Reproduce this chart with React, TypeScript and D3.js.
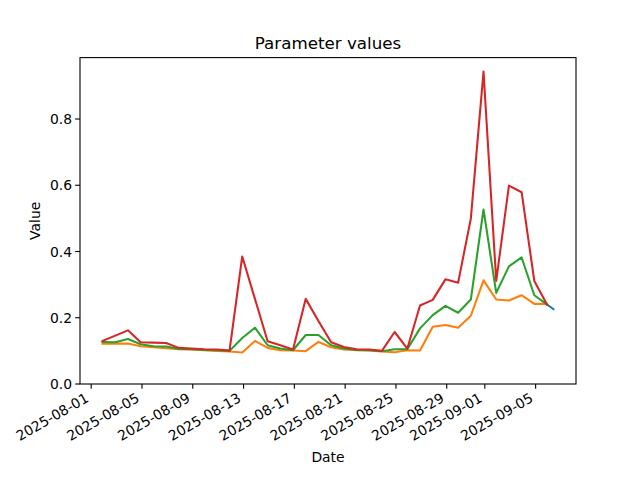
import React from "react";
import * as d3 from "d3";

const dates: string[] = [
  "2025-08-01T21:30", "2025-08-02T21:30", "2025-08-03T21:30", "2025-08-04T21:30",
  "2025-08-05T21:30", "2025-08-06T21:30", "2025-08-07T21:30", "2025-08-08T21:30",
  "2025-08-09T21:30", "2025-08-10T21:30", "2025-08-11T21:30", "2025-08-12T21:30",
  "2025-08-13T21:30", "2025-08-14T21:30", "2025-08-15T21:30", "2025-08-16T21:30",
  "2025-08-17T21:30", "2025-08-18T21:30", "2025-08-19T21:30", "2025-08-20T21:30",
  "2025-08-21T21:30", "2025-08-22T21:30", "2025-08-23T21:30", "2025-08-24T21:30",
  "2025-08-25T21:30", "2025-08-26T21:30", "2025-08-27T21:30", "2025-08-28T21:30",
  "2025-08-29T21:30", "2025-08-30T21:30", "2025-08-31T21:30", "2025-09-01T21:30",
  "2025-09-02T21:30", "2025-09-03T21:30", "2025-09-04T21:30", "2025-09-05T21:30",
];

const redValues: number[] = [
  0.130, 0.146, 0.162, 0.126, 0.125, 0.124, 0.109, 0.107, 0.105, 0.104, 0.101, 0.385,
  0.257, 0.129, 0.117, 0.104, 0.257, 0.19, 0.126, 0.112, 0.105, 0.104, 0.100, 0.157,
  0.107, 0.237, 0.254, 0.316, 0.306, 0.499, 0.943, 0.311, 0.599, 0.579, 0.311, 0.240,
];
const greenValues: number[] = [
  0.127, 0.126, 0.136, 0.120, 0.114, 0.113, 0.106, 0.105, 0.103, 0.102, 0.100, 0.139,
  0.170, 0.117, 0.107, 0.102, 0.148, 0.148, 0.117, 0.107, 0.103, 0.102, 0.099, 0.105,
  0.105, 0.168, 0.208, 0.236, 0.215, 0.255, 0.527, 0.275, 0.355, 0.382, 0.268, 0.240,
];
const orangeValues: number[] = [
  0.122, 0.122, 0.122, 0.114, 0.111, 0.108, 0.105, 0.104, 0.102, 0.100, 0.098, 0.095,
  0.130, 0.109, 0.102, 0.101, 0.099, 0.127, 0.111, 0.104, 0.102, 0.101, 0.098, 0.096,
  0.102, 0.101, 0.173, 0.178, 0.170, 0.206, 0.313, 0.255, 0.252, 0.268, 0.242, 0.242,
];
const blueDates: string[] = ["2025-09-05T21:30", "2025-09-06T09:40"];
const blueValues: number[] = [0.240, 0.226];

const xTickLabels: string[] = [
  "2025-08-01", "2025-08-05", "2025-08-09", "2025-08-13", "2025-08-17",
  "2025-08-21", "2025-08-25", "2025-08-29", "2025-09-01", "2025-09-05",
];
const yTicks: number[] = [0, 0.2, 0.4, 0.6, 0.8];

const W = 640, H = 480;
const left = 80, right = 576, top = 57.6, bottom = 384;
const FONT = "DejaVu Sans, sans-serif";

export default function App() {
  const parse = d3.timeParse("%Y-%m-%dT%H:%M");
  const parseDay = d3.timeParse("%Y-%m-%d");
  const allDates = [...dates, ...blueDates].map((s) => parse(s) as Date);
  const [d0, d1] = d3.extent(allDates) as [Date, Date];
  const span = d1.getTime() - d0.getTime();
  const x = d3
    .scaleTime()
    .domain([new Date(d0.getTime() - 0.05 * span), new Date(d1.getTime() + 0.05 * span)])
    .range([left, right]);
  const allVals = [...redValues, ...greenValues, ...orangeValues, ...blueValues];
  const vmax = d3.max(allVals) as number;
  const vmin = d3.min(allVals) as number;
  const y = d3.scaleLinear().domain([0, vmax + 0.05 * (vmax - vmin)]).range([bottom, top]);

  const line = d3
    .line<[Date, number]>()
    .x((d) => x(d[0]))
    .y((d) => y(d[1]));

  const mk = (ds: string[], vs: number[]) => ds.map((s, i) => [parse(s) as Date, vs[i]] as [Date, number]);
  const series = [
    { color: "#1f77b4", pts: mk(blueDates, blueValues) },
    { color: "#ff7f0e", pts: mk(dates, orangeValues) },
    { color: "#2ca02c", pts: mk(dates, greenValues) },
    { color: "#d62728", pts: mk(dates, redValues) },
  ];

  return (
    <svg
      width={W}
      height={H}
      style={{ position: "absolute", left: 0, top: 0, background: "#fff" }}
      fontFamily={FONT}
    >
      <rect x={0} y={0} width={W} height={H} fill="#fff" />
      <defs>
        <clipPath id="plotclip">
          <rect x={left} y={top} width={right - left} height={bottom - top} />
        </clipPath>
      </defs>
      <g clipPath="url(#plotclip)">
        {series.map((s, i) => (
          <path
            key={i}
            d={line(s.pts) || ""}
            fill="none"
            stroke={s.color}
            strokeWidth={2.08}
            strokeLinejoin="round"
            strokeLinecap="square"
          />
        ))}
      </g>
      <rect
        x={left}
        y={top}
        width={right - left}
        height={bottom - top}
        fill="none"
        stroke="#000"
        strokeWidth={1.1}
      />
      {yTicks.map((t) => (
        <g key={t}>
          <line x1={left} x2={left - 4.86} y1={y(t)} y2={y(t)} stroke="#000" strokeWidth={1.1} />
          <text x={left - 8} y={y(t)} dy="0.36em" textAnchor="end" fontSize={13.9} fill="#000">
            {t.toFixed(1)}
          </text>
        </g>
      ))}
      {xTickLabels.map((lbl) => {
        const tx = x(parseDay(lbl) as Date);
        return (
          <g key={lbl}>
            <line x1={tx} x2={tx} y1={bottom} y2={bottom + 4.86} stroke="#000" strokeWidth={1.1} />
            <text
              transform={`translate(${tx - 7},${bottom + 7.5}) rotate(-30)`}
              dy="0.78em"
              textAnchor="end"
              fontSize={13.9}
              fill="#000"
            >
              {lbl}
            </text>
          </g>
        );
      })}
      <text x={(left + right) / 2} y={49} textAnchor="middle" fontSize={16.7} fill="#000">
        Parameter values
      </text>
      <text x={(left + right) / 2} y={462} textAnchor="middle" fontSize={13.9} fill="#000">
        Date
      </text>
      <text
        transform={`translate(40,${(top + bottom) / 2}) rotate(-90)`}
        textAnchor="middle"
        fontSize={13.9}
        fill="#000"
      >
        Value
      </text>
    </svg>
  );
}
